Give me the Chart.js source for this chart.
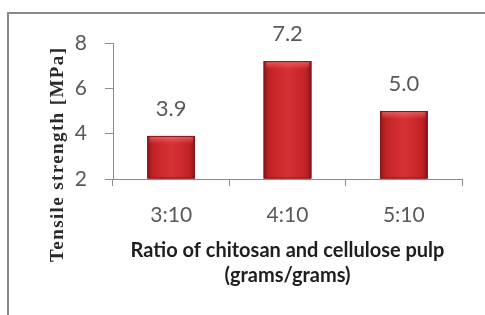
<!DOCTYPE html>
<html>
<head>
<meta charset="utf-8">
<script src="https://cdn.jsdelivr.net/npm/chart.js@4.4.1/dist/chart.umd.min.js"></script>
<style>
  html, body { margin: 0; padding: 0; background: #fff; }
  #wrap { position: relative; width: 485px; height: 315px; overflow: hidden; }
  #frame { position: absolute; left: 7px; top: 12px; width: 500px; height: 320px;
           border-left: 2px solid #8a8a8a; border-top: 2px solid #8a8a8a; }
  canvas { position: absolute; left: 0; top: 0; }
</style>
</head>
<body>
<div id="wrap">
  <div id="frame"></div>
  <canvas id="c" width="485" height="315"></canvas>
</div>
<script>
const categories = ["3:10", "4:10", "5:10"];
const tensileStrength = [3.9, 7.2, 5.0];
const yTicks = [2, 4, 6, 8];
const yTitle = "Tensile strength [MPa]";
const xTitle = ["Ratio of chitosan and cellulose pulp", "(grams/grams)"];

const barStyle = {
  id: 'barStyle',
  afterDatasetsDraw(chart) {
    const ctx = chart.ctx;
    const meta = chart.getDatasetMeta(0);
    meta.data.forEach((bar, i) => {
      const p = bar.getProps(['x', 'y', 'base', 'width'], true);
      const l = p.x - p.width / 2, r = p.x + p.width / 2;
      const t = p.y, b = p.base;
      ctx.save();
      const g = ctx.createLinearGradient(l, 0, r, 0);
      g.addColorStop(0, '#921519');
      g.addColorStop(0.12, '#c22226');
      g.addColorStop(0.5, '#d63236');
      g.addColorStop(0.88, '#c22226');
      g.addColorStop(1, '#88161a');
      ctx.fillStyle = g;
      ctx.fillRect(l, t, r - l, b - t);
      const g2 = ctx.createLinearGradient(0, t, 0, t + 8);
      g2.addColorStop(0, 'rgba(255,140,140,0.55)');
      g2.addColorStop(1, 'rgba(255,140,140,0)');
      ctx.fillStyle = g2;
      ctx.fillRect(l + 2, t, r - l - 4, 8);
      ctx.strokeStyle = '#841619';
      ctx.lineWidth = 1;
      ctx.strokeRect(l + 0.5, t + 0.5, r - l - 1, b - t - 1);
      ctx.fillStyle = '#595959';
      ctx.font = '22px Lato, "Open Sans", sans-serif';
      ctx.textAlign = 'center';
      ctx.textBaseline = 'middle';
      ctx.fillText(tensileStrength[i].toFixed(1), p.x, t - 27);
      ctx.restore();
    });
  }
};

const yTitlePlugin = {
  id: 'yTitlePlugin',
  afterDraw(chart) {
    const ctx = chart.ctx;
    ctx.save();
    ctx.translate(58, 155);
    ctx.rotate(-Math.PI / 2);
    ctx.font = 'bold 19px "Liberation Serif", "DejaVu Serif", serif';
    ctx.fillStyle = '#2a2a2a';
    ctx.textAlign = 'center';
    ctx.textBaseline = 'middle';
    const target = 214;
    const w = ctx.measureText(yTitle).width;
    const extra = (target - w) / (yTitle.length - 1);
    if ('letterSpacing' in ctx && extra > 0) {
      ctx.letterSpacing = extra.toFixed(2) + 'px';
      ctx.fillText(yTitle, extra / 2, 0);
    } else {
      ctx.fillText(yTitle, 0, 0);
    }
    ctx.restore();
  }
};

new Chart(document.getElementById('c'), {
  type: 'bar',
  data: {
    labels: categories,
    datasets: [{
      data: tensileStrength,
      base: 2,
      backgroundColor: '#c22226',
      borderWidth: 0,
      barPercentage: 0.41,
      categoryPercentage: 1.0
    }]
  },
  options: {
    responsive: false,
    animation: false,
    events: [],
    layout: { padding: { left: 0, right: 23, top: 43, bottom: 0 } },
    plugins: { legend: { display: false }, tooltip: { enabled: false } },
    scales: {
      y: {
        min: 2, max: 8,
        afterBuildTicks(scale) { scale.ticks = yTicks.map(v => ({ value: v })); },
        afterFit(scale) { scale.width = 113; },
        border: { display: true, color: '#8c8c8c', width: 1 },
        grid: { display: true, drawOnChartArea: false, drawTicks: true, tickLength: 8, color: '#8c8c8c' },
        ticks: { padding: 18, color: '#595959', font: { family: 'Lato, "Open Sans", sans-serif', size: 21 } }
      },
      x: {
        afterFit(scale) { scale.height = 136; },
        border: { display: true, color: '#8c8c8c', width: 1 },
        grid: { display: true, drawOnChartArea: false, drawTicks: true, tickLength: 7, color: '#8c8c8c' },
        ticks: { padding: 17, color: '#595959', font: { family: 'Lato, "Open Sans", sans-serif', size: 21 } },
        title: {
          display: true,
          text: xTitle,
          color: '#1e1e1e',
          padding: { top: 0, bottom: 27 },
          font: { family: 'Lato, "Open Sans", sans-serif', size: 20, weight: 'bold', lineHeight: '25px' }
        }
      }
    }
  },
  plugins: [barStyle, yTitlePlugin]
});
</script>
</body>
</html>
